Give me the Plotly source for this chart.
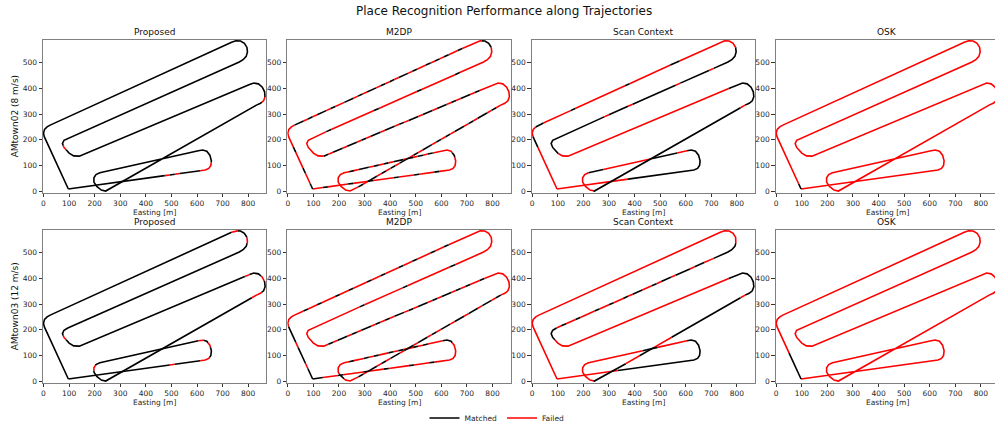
import math
import plotly.graph_objects as go

# ---------------- data: trajectory legs (Easting, Northing in m) ----------------
LEG_START_DIAG = [(97, 8), (3, 212)]
LEG_CORNER_W = [(3, 212), (0, 226), (4, 240), (14, 250), (26, 257)]
LEG_LINE1 = [(26, 257), (735, 580)]
LEG_CAP_NE = [(735, 580), (752, 586), (770, 585), (785, 576), (795, 560), (797, 542),
              (792, 525), (780, 512), (765, 503)]
LEG_LINE2 = [(765, 503), (95, 207)]
LEG_CAP_W = [(95, 207), (80, 198), (74, 185), (80, 170), (100, 148), (118, 137), (140, 136)]
LEG_LINE3 = [(140, 136), (805, 415)]
LEG_CAP_E = [(805, 415), (822, 421), (840, 418), (855, 405), (864, 387), (866, 368),
             (860, 352), (848, 342), (832, 335)]
LEG_LINE4 = [(832, 335), (258, 6)]
LEG_CAP_SW = [(258, 6), (243, 0), (226, 4), (208, 18), (197, 35), (197, 52), (205, 64), (220, 71)]
LEG_LINE5 = [(220, 71), (605, 157)]
LEG_CAP_SE = [(605, 157), (622, 160), (638, 155), (650, 140), (656, 118), (654, 100),
              (646, 88), (632, 82)]
LEG_LINE6 = [(632, 82), (97, 8)]

LEGS = [LEG_START_DIAG, LEG_CORNER_W, LEG_LINE1, LEG_CAP_NE, LEG_LINE2, LEG_CAP_W,
        LEG_LINE3, LEG_CAP_E, LEG_LINE4, LEG_CAP_SW, LEG_LINE5, LEG_CAP_SE, LEG_LINE6]

# ------------- data: match status along each leg (M = matched, F = failed) -------------
STATUS_PROPOSED_02 = [
    "MMMMMMMMMM", "MMMM", "M" * 40, "MMMMMM", "M" * 36, "MMFMMM", "M" * 36, "MMMMFM",
    "M" * 32, "MMMMMM", "M" * 20, "MMMMFF", "FMMMMFMFMMMMMMMMMMMMMMMMMMM"]
STATUS_PROPOSED_03 = [
    "MMMMMMMMMM", "MMMM", "M" * 40, "FMMFMM", "M" * 36, "MMFMMM", "M" * 35 + "F", "MMFMMF",
    "F" + "M" * 31, "MMMMFM", "M" * 20, "FMFMMF", "FMMMMMFMMMMMMMMMMMMMMMMMMMM"]
STATUS_M2DP_02 = [
    "MFFMFFFMFF", "FFFF", "MMFMFMMFMFFMMFMFMMFMFMFMMFMFFMFMFMFFMFFF", "FMMFFF",
    "FFFFFMFFFFFFFMFFFFFFFFMFFFFFFFFFMFFF", "FFFFFF",
    "MFMMFMMFMFMMFMMFMFMMFMMFMMFMFMMFMFFF", "FFFFFF",
    "FMFMMFMFMMFMFMFMMFMFMMFMFMFMMFMF", "FFFFFF", "FMFMMFMFMFMMFMFMFMFF", "FFMFFF",
    "FFMFFFMFFFMFFFFMFFFMFFFFMFF"]
STATUS_M2DP_03 = [
    "MMFMMMFMMM", "FFFF", "FFMFFMFFFMFFMFFFMFFMFFFMFFMFFFMFFMFFFFFF", "FFFFFF",
    "FFFFFFMFFFFFFFFFMFFFFFFFFMFFFFFFFFFF", "FFFFFF",
    "FMFMMFMFMMFMFMFMMFMFMMFMFMMFMFMFFMFF", "FFFFFF",
    "MFMMFMMFMMFMMFMFMMFMMFMMFMFMMFMF", "FFMFFF", "FMFFMFMFFMFMFFMFMFFF", "MMFFFF",
    "FFFMFFFMFFFFMFFFMFFFFMFFFMM"]
STATUS_SC_02 = [
    "FFFFFFFFMM", "FFFM", "MFFFFFFMFFFFFFFFFFFMFFFFFFFFFMMFFFFFFFFF", "FFFMMM",
    "MMMFMMMMMMFMMMMMMMMMFMMMMFMMMMMMMMMM", "MMMMFF", "F" * 34 + "MM", "MMMMMM",
    "F" + "M" * 31, "MFFFFF", "MMMFFFFFFFFFFMMMMMFF", "MMMMMM", "M" * 13 + "F" * 14]
STATUS_SC_03 = [
    "FFFFFFFFFF", "FFFF", "F" * 40, "FFFFMM",
    "MMMFFMMFMMMFMMFMFFMMFMFFMFFMFFFMFFMF", "MMMFFF", "F" * 34 + "MM", "MMMMMM",
    "FMMMMMMMMMMMMMMMFFFFMMMFFFMMMMMM", "MFFFFF", "FFFFFFFFFFFMMMFFFFFF", "MMMMMM",
    "M" * 15 + "F" * 12]
STATUS_OSK_02 = [
    "MFFFFFFFFF", "FFFF", "F" * 40, "FFFFFF", "F" * 36, "FFFFFF", "F" * 36, "FFFFFF",
    "F" * 32, "FFFFFF", "F" * 20, "FFFFFF", "F" * 27]
STATUS_OSK_03 = [
    "MMMMMFFFFF", "FFFF", "F" * 40, "FFFFFF", "F" * 36, "FFFFFF", "F" * 36, "FFFFFF",
    "F" * 32, "FFFFFF", "F" * 20, "FFFFFF", "F" * 27]

METHODS = ["Proposed", "M2DP", "Scan Context", "OSK"]
SEQUENCES = ["AMtown02 (8 m/s)", "AMtown03 (12 m/s)"]
STATUS = [[STATUS_PROPOSED_02, STATUS_M2DP_02, STATUS_SC_02, STATUS_OSK_02],
          [STATUS_PROPOSED_03, STATUS_M2DP_03, STATUS_SC_03, STATUS_OSK_03]]
X_TICKS = [0, 100, 200, 300, 400, 500, 600, 700, 800]
Y_TICKS = [0, 100, 200, 300, 400, 500]


# ---------------- helpers ----------------
def cumlen(pts):
    c = [0.0]
    for a, b in zip(pts[:-1], pts[1:]):
        c.append(c[-1] + math.hypot(b[0] - a[0], b[1] - a[1]))
    return c


def point_at(pts, cum, s):
    for k in range(len(pts) - 1):
        if cum[k] <= s <= cum[k + 1] + 1e-9:
            d = cum[k + 1] - cum[k]
            t = 0 if d == 0 else (s - cum[k]) / d
            return (pts[k][0] + t * (pts[k + 1][0] - pts[k][0]),
                    pts[k][1] + t * (pts[k + 1][1] - pts[k][1]))
    return pts[-1]


def leg_runs(pts, status):
    cum = cumlen(pts)
    L = cum[-1]
    n = len(status)
    runs = []
    i = 0
    while i < n:
        j = i
        while j + 1 < n and status[j + 1] == status[i]:
            j += 1
        s0, s1 = i * L / n, (j + 1) * L / n
        path = [point_at(pts, cum, s0)]
        path += [pts[k] for k in range(len(pts)) if s0 < cum[k] < s1]
        path.append(point_at(pts, cum, s1))
        runs.append([status[i], path])
        i = j + 1
    return runs


def subplot_runs(statuses):
    merged = []
    for pts, st in zip(LEGS, statuses):
        for r in leg_runs(pts, st):
            if merged and merged[-1][0] == r[0]:
                merged[-1][1].extend(r[1][1:])
            else:
                merged.append(r)
    out = {"M": ([], []), "F": ([], [])}
    for st, path in merged:
        xs, ys = out[st]
        xs.extend([p[0] for p in path] + [None])
        ys.extend([p[1] for p in path] + [None])
    return out


# ---------------- layout geometry (pixels) ----------------
W, H = 995, 426
COL_LEFT = [43.0, 287.3, 531.7, 775.7]
COL_W = 223.4
ROW_TOP = [40.0, 230.0]
ROW_H = 152.7
XR = [-2, 871]
YR = [-6.5, 589]
UPX = (XR[1] - XR[0]) / COL_W

FONT = "DejaVu Sans"
fig = go.Figure()
annotations = []
layout = {}

for r in range(2):
    for c in range(4):
        idx = r * 4 + c + 1
        xa = "x" if idx == 1 else f"x{idx}"
        ya = "y" if idx == 1 else f"y{idx}"
        runs = subplot_runs(STATUS[r][c])
        for st, name, color in [("F", "Failed", "#ff0000"), ("M", "Matched", "#000000")]:
            xs, ys = runs[st]
            fig.add_trace(go.Scatter(
                x=xs, y=ys, mode="lines", name=name, legendgroup=name,
                showlegend=(idx == 1), line=dict(color=color, width=1.6),
                xaxis=xa, yaxis=ya, hoverinfo="skip"))
        x0 = COL_LEFT[c] / W
        x1 = min(1.0, (COL_LEFT[c] + COL_W) / W)
        xr = list(XR)
        if (COL_LEFT[c] + COL_W) > W:
            xr[1] = XR[0] + (W - COL_LEFT[c]) * UPX
        y1 = 1 - ROW_TOP[r] / H
        y0 = 1 - (ROW_TOP[r] + ROW_H) / H
        axis_common = dict(showgrid=False, zeroline=False, showline=True, mirror=True,
                           linecolor="#808080", linewidth=1, ticks="outside", ticklen=3.5,
                           tickwidth=0.8, tickcolor="#333333", automargin=False,
                           tickfont=dict(size=7.5, color="#262626", family=FONT))
        layout["xaxis" if idx == 1 else f"xaxis{idx}"] = dict(
            domain=[x0, x1], range=xr, anchor=ya, tickmode="array", tickvals=X_TICKS,
            **axis_common)
        layout["yaxis" if idx == 1 else f"yaxis{idx}"] = dict(
            domain=[y0, y1], range=YR, anchor=xa, tickmode="array", tickvals=Y_TICKS,
            **axis_common)
        cx = (COL_LEFT[c] + COL_W / 2) / W
        annotations.append(dict(text=METHODS[c], x=cx, y=y1, xref="paper", yref="paper",
                                xanchor="center", yanchor="bottom", yshift=1.5,
                                showarrow=False, font=dict(size=9, color="#111111", family=FONT)))
        annotations.append(dict(text="Easting [m]", x=cx,
                                y=1 - (ROW_TOP[r] + ROW_H + 19.5) / H,
                                xref="paper", yref="paper", xanchor="center", yanchor="middle",
                                showarrow=False, font=dict(size=7.5, color="#262626", family=FONT)))
    annotations.append(dict(text=SEQUENCES[r], x=15 / W, y=1 - (ROW_TOP[r] + ROW_H / 2) / H,
                            xref="paper", yref="paper", xanchor="center", yanchor="middle",
                            textangle=-90, showarrow=False,
                            font=dict(size=9, color="#111111", family=FONT)))

annotations.append(dict(text="Place Recognition Performance along Trajectories",
                        x=504 / W, y=1 - 11 / H, xref="paper", yref="paper",
                        xanchor="center", yanchor="middle", showarrow=False,
                        font=dict(size=12, color="#111111", family=FONT)))

fig.update_layout(
    width=W, height=H, autosize=False,
    margin=dict(l=0, r=0, t=0, b=0, autoexpand=False),
    paper_bgcolor="white", plot_bgcolor="white",
    font=dict(family=FONT),
    annotations=annotations,
    legend=dict(orientation="h", x=497 / W, xanchor="center", y=1 - 418 / H,
                yanchor="middle", font=dict(size=7.5, color="#262626", family=FONT),
                itemwidth=30, traceorder="reversed", bgcolor="rgba(0,0,0,0)"),
    **layout)

fig.write_html("out.html", config={"displayModeBar": False},
               post_script="document.body.style.margin='0px';"
                           "document.body.style.overflow='hidden';")
